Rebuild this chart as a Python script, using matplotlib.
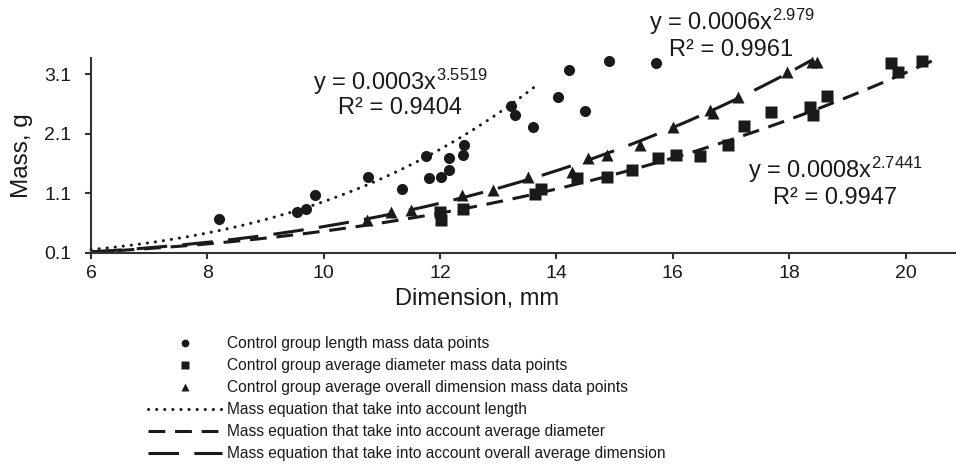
import numpy as np
import matplotlib
matplotlib.use('Agg')
import matplotlib.pyplot as plt

plt.rcParams['font.family'] = ['Liberation Sans', 'DejaVu Sans']
plt.rcParams['mathtext.fontset'] = 'custom'
plt.rcParams['mathtext.rm'] = 'Liberation Sans'
plt.rcParams['mathtext.default'] = 'regular'

# control group: length vs mass
len_x = [8.20, 9.54, 9.69, 9.85, 10.76, 11.34, 11.81, 12.01, 12.15, 12.15, 11.76,
         12.39, 12.41, 13.22, 13.29, 13.59, 14.02, 14.21, 14.49, 14.90, 15.71]
len_y = [0.67, 0.79, 0.84, 1.07, 1.37, 1.17, 1.36, 1.37, 1.49, 1.69, 1.72,
         1.74, 1.91, 2.56, 2.41, 2.21, 2.71, 3.17, 2.48, 3.32, 3.28]

# control group: average diameter vs mass
dia_x = [12.00, 12.02, 12.39, 13.63, 13.73, 14.35, 14.87, 15.30, 15.74, 16.05,
         16.46, 16.94, 17.22, 17.68, 18.35, 18.41, 18.65, 19.75, 19.87, 20.28]
dia_y = [0.78, 0.65, 0.84, 1.09, 1.17, 1.36, 1.37, 1.49, 1.69, 1.74,
         1.72, 1.91, 2.23, 2.46, 2.55, 2.41, 2.73, 3.28, 3.13, 3.32]

# control group: average overall dimension vs mass
ovr_x = [10.74, 11.15, 11.50, 12.37, 12.91, 13.51, 14.26, 14.54, 14.87, 15.43,
         16.00, 16.64, 16.69, 17.12, 17.96, 18.40, 18.47]
ovr_y = [0.65, 0.79, 0.82, 1.07, 1.16, 1.37, 1.46, 1.69, 1.74, 1.91,
         2.21, 2.50, 2.45, 2.71, 3.13, 3.30, 3.30]

len_fit = (0.00027, 3.5519, 6.0, 13.68)
dia_fit = (0.00084, 2.7441, 6.0, 20.47)
ovr_fit = (0.00057, 2.979, 6.0, 18.39)

labels = ['Control group length mass data points',
          'Control group average diameter mass data points',
          'Control group average overall dimension mass data points',
          'Mass equation that take into account length',
          'Mass equation that take into account average diameter',
          'Mass equation that take into account overall average dimension']

ink = '#1a1a1a'

fig = plt.figure(figsize=(9.56, 4.75), dpi=100)
ax = fig.add_axes([0.0952, 0.4674, 0.9038, 0.4106])


def curve(fit):
    a, b, x0, x1 = fit
    xs = np.linspace(x0, x1, 200)
    return xs, a * xs ** b


h1, = ax.plot(len_x, len_y, 'o', color=ink, ms=8, mec='none', label=labels[0], clip_on=False)
h2, = ax.plot(dia_x, dia_y, 's', color=ink, ms=8, mec='none', label=labels[1], clip_on=False)
h3, = ax.plot(ovr_x, ovr_y, '^', color=ink, ms=8, mec='none', label=labels[2], clip_on=False)

xs, ys = curve(len_fit)
h4, = ax.plot(xs, ys, color=ink, lw=2.2, ls=(0, (0.05, 2.6)),
              dash_capstyle='round', label=labels[3], clip_on=False)
xs, ys = curve(dia_fit)
h5, = ax.plot(xs, ys, color=ink, lw=2.2, ls=(0, (5.5, 3.2)), label=labels[4], clip_on=False)
xs, ys = curve(ovr_fit)
h6, = ax.plot(xs, ys, color=ink, lw=2.2, ls=(0, (10, 5)), label=labels[5], clip_on=False)

ax.set_xlim(6, 20.85)
ax.set_ylim(0.1, 3.37)
ax.set_xticks([6, 8, 10, 12, 14, 16, 18, 20])
ax.set_yticks([0.1, 1.1, 2.1, 3.1])
ax.set_yticklabels(['0.1', '1.1', '2.1', '3.1'])
for s in ['top', 'right']:
    ax.spines[s].set_visible(False)
for s in ['left', 'bottom']:
    ax.spines[s].set_color('#333333')
    ax.spines[s].set_linewidth(1.5)
ax.tick_params(direction='out', length=4, width=1.5, color='#333333',
               labelsize=14, labelcolor=ink)
ax.tick_params(axis='x', pad=5)
ax.tick_params(axis='y', pad=10)
ax.set_xlabel('Dimension, mm', fontsize=17, color=ink)
ax.set_ylabel('Mass, g', fontsize=17.5, color=ink)
ax.xaxis.set_label_coords(0.447, -0.18)
ax.yaxis.set_label_coords(-0.067, 0.5)

tk = dict(fontsize=17, color=ink, ha='center', va='center')
ax.text(11.31, 2.97, 'y = 0.0003x$^{3.5519}$', **tk)
ax.text(11.31, 2.53, 'R² = 0.9404', **tk)
ax.text(17.01, 3.97, 'y = 0.0006x$^{2.979}$', **tk)
ax.text(17.0, 3.50, 'R² = 0.9961', **tk)
ax.text(18.80, 1.49, 'y = 0.0008x$^{2.7441}$', **tk)
ax.text(18.78, 1.02, 'R² = 0.9947', **tk)

fig.legend(handles=[h1, h2, h3, h4, h5, h6], loc='upper left',
           bbox_to_anchor=(0.148, 0.305), frameon=False, fontsize=11.2,
           handlelength=4.8, handletextpad=0.3, labelspacing=0.45,
           markerscale=0.7, borderaxespad=0, labelcolor=ink)

fig.savefig('out.png', dpi=100)
